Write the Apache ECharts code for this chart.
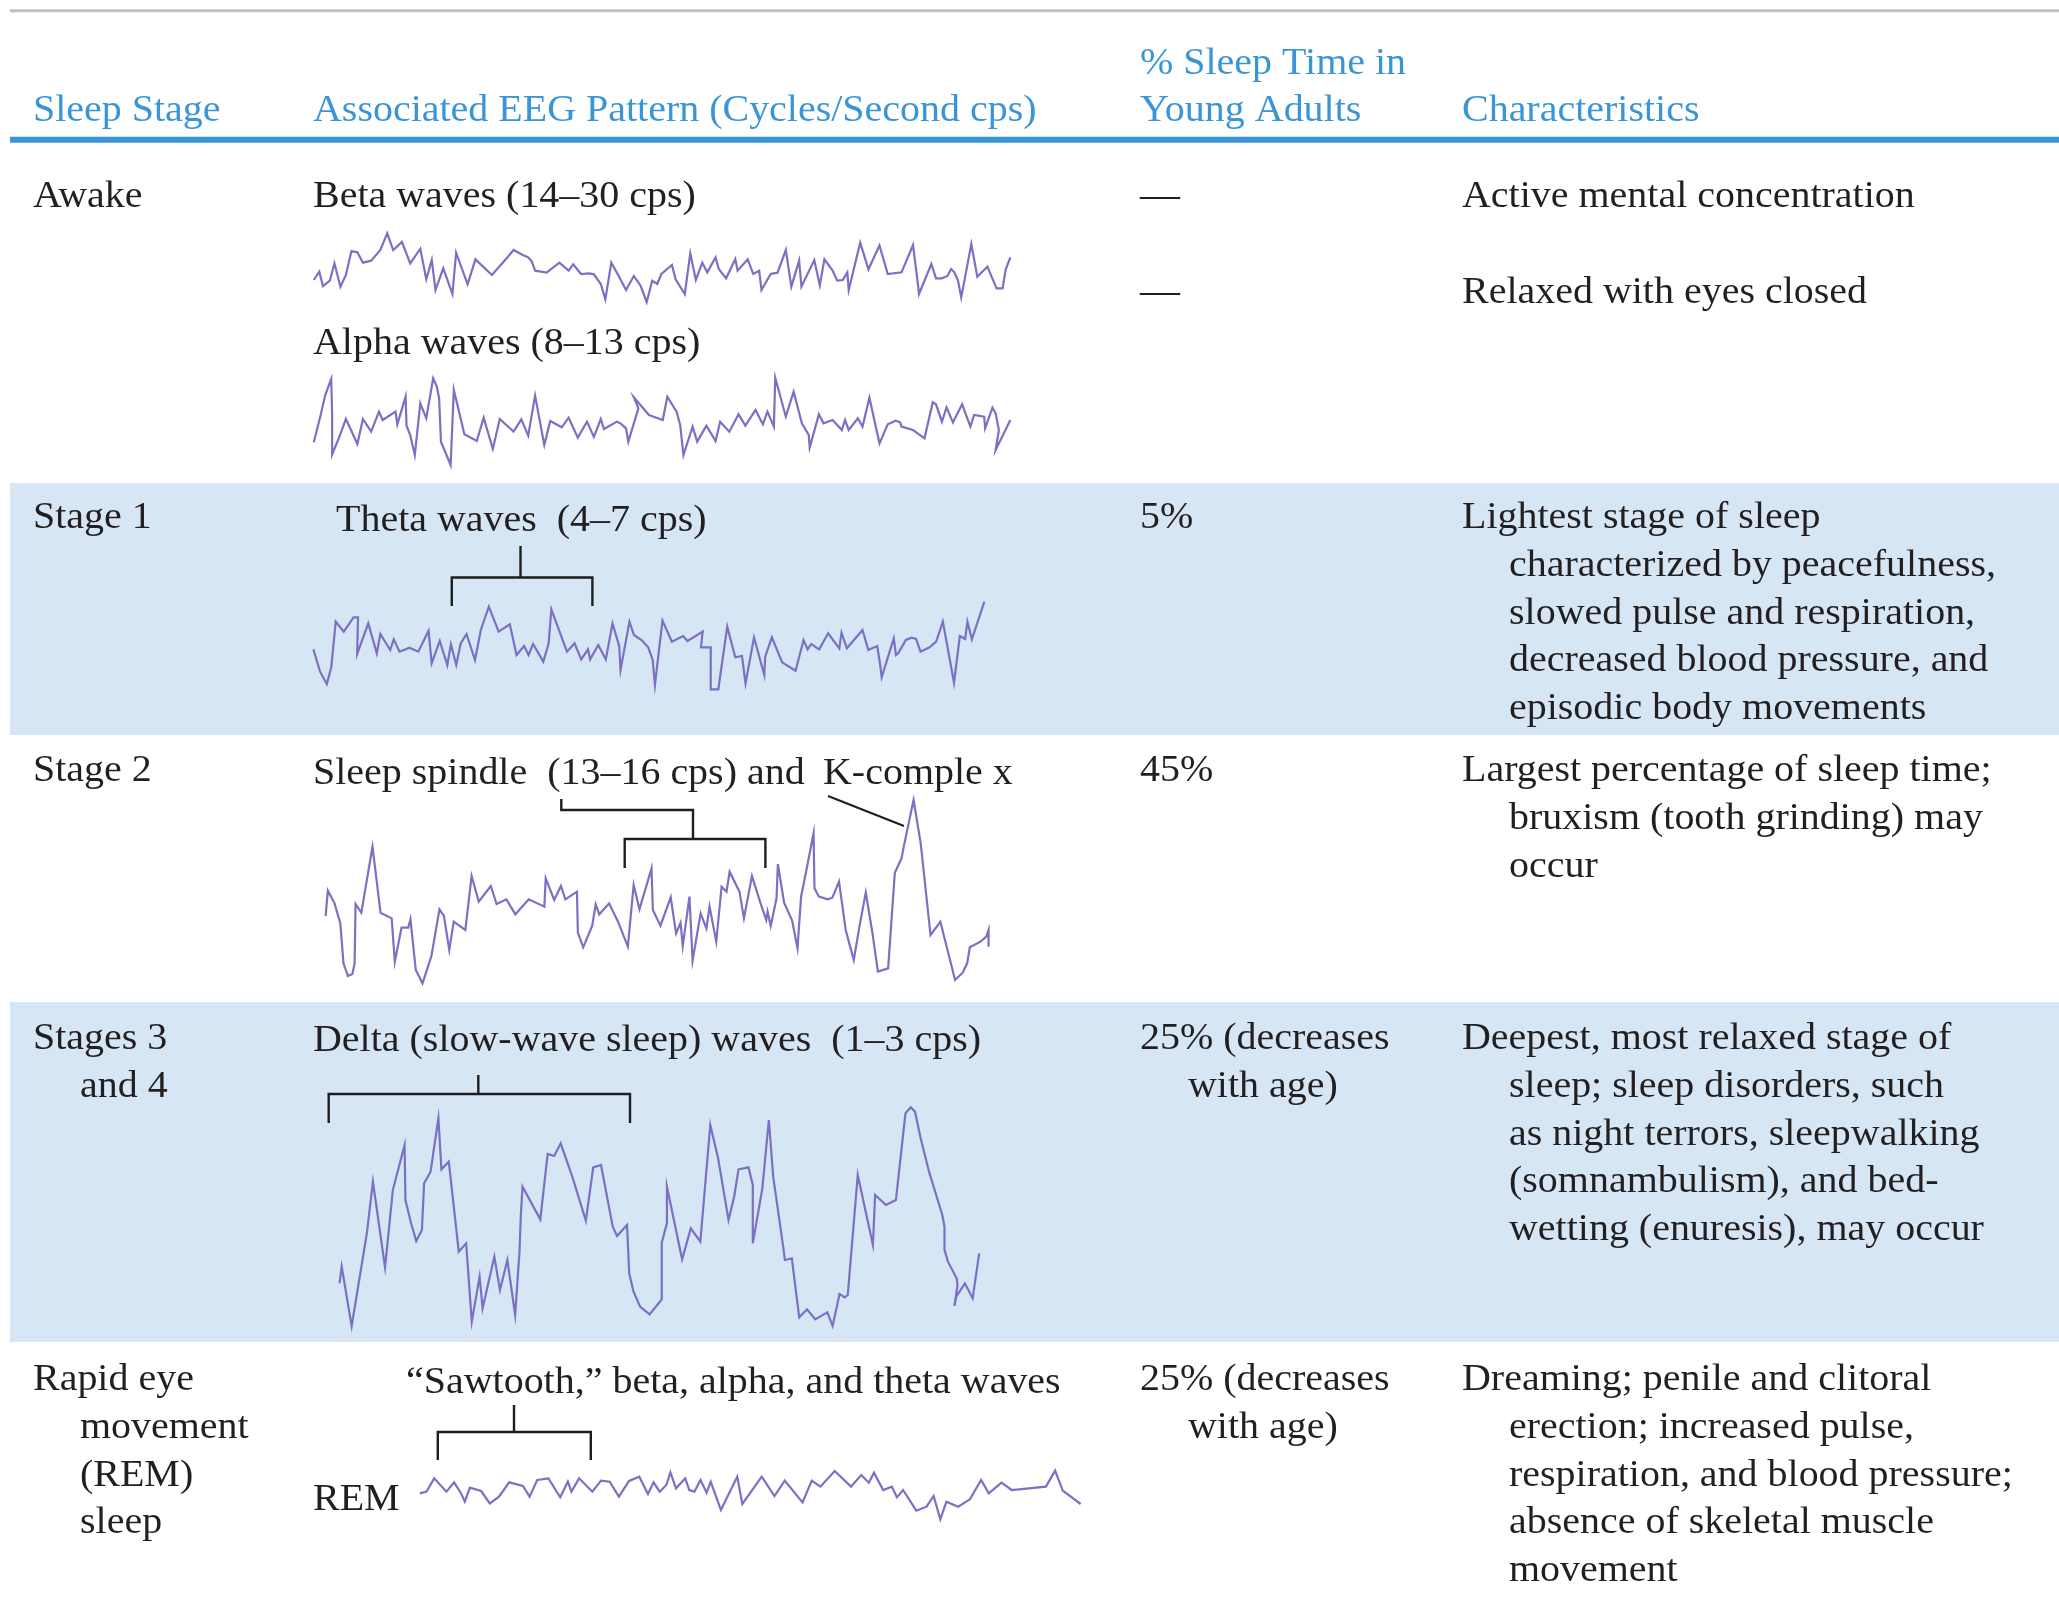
<!DOCTYPE html>
<html><head><meta charset="utf-8">
<script src="https://cdn.jsdelivr.net/npm/echarts@6/dist/echarts.min.js"></script>
<style>html,body{margin:0;padding:0;background:#fff}#c{width:2059px;height:1600px}</style>
</head><body><div id="c"></div><script>
// ---- Data: EEG traces as [time sample, deflection] (EEG convention: negative up) ----
var betaWave = [[30,180],[42,155],[50,198],[65,182],[75,130],[88,200],[100,165],[112,93],[125,97],[137,128],[155,122],[175,90],[190,40],[203,90],[222,66],[240,130],[262,86],[275,178],[287,120],[295,210],[312,145],[332,222],[340,98],[365,193],[382,118],[418,165],[450,115],[465,90],[485,105],[497,112],[505,125],[512,152],[537,158],[565,128],[585,152],[595,133],[612,162],[630,160],[640,163],[655,192],[665,238],[678,128],[692,163],[710,210],[727,168],[742,198],[755,246],[767,182],[778,192],[787,162],[810,135],[818,178],[838,222],[850,100],[862,180],[876,128],[887,157],[905,112],[912,147],[928,175],[948,117],[953,152],[975,118],[987,162],[1000,152],[1005,210],[1025,162],[1040,158],[1058,90],[1070,200],[1087,122],[1092,200],[1120,120],[1132,196],[1142,118],[1160,152],[1170,182],[1182,180],[1192,157],[1195,210],[1220,68],[1238,148],[1262,76],[1280,162],[1310,157],[1335,75],[1345,185],[1348,222],[1375,132],[1385,175],[1398,175],[1410,168],[1418,147],[1425,157],[1433,182],[1440,232],[1462,72],[1475,170],[1497,140],[1517,205],[1530,205],[1537,148],[1547,112]];
var alphaWave = [[30,232],[45,150],[55,90],[68,42],[70,150],[70,268],[85,218],[100,162],[125,237],[137,162],[155,200],[172,140],[180,165],[208,140],[212,178],[230,95],[232,182],[240,210],[250,270],[262,115],[275,160],[290,40],[298,65],[303,100],[307,230],[328,300],[335,75],[358,208],[385,228],[400,158],[420,252],[435,162],[465,200],[482,163],[497,212],[512,92],[532,240],[545,168],[570,187],[585,158],[605,218],[625,170],[640,216],[655,162],[662,192],[690,170],[698,175],[710,190],[715,230],[737,130],[727,97],[760,150],[790,165],[800,95],[820,140],[828,180],[835,270],[855,185],[865,230],[885,182],[905,228],[915,170],[935,200],[955,148],[970,182],[992,135],[1008,178],[1018,140],[1032,185],[1035,38],[1058,155],[1075,80],[1093,175],[1108,210],[1110,248],[1130,148],[1140,175],[1160,165],[1180,195],[1187,165],[1195,195],[1215,160],[1225,185],[1240,98],[1262,235],[1280,178],[1297,167],[1307,172],[1310,185],[1335,195],[1345,205],[1360,220],[1378,112],[1385,118],[1398,170],[1408,127],[1422,172],[1442,118],[1460,185],[1468,150],[1490,155],[1492,190],[1508,128],[1515,145],[1522,195],[1515,255],[1547,165]];
var thetaWave = [[30,268],[45,335],[60,372],[70,322],[80,185],[98,215],[120,172],[130,172],[128,282],[153,190],[172,280],[180,222],[202,270],[210,238],[223,275],[245,263],[265,275],[288,212],[295,310],[313,243],[330,315],[338,253],[350,315],[360,250],[373,222],[392,300],[405,210],[423,140],[445,215],[470,193],[485,285],[502,258],[512,285],[522,252],[545,305],[557,250],[563,148],[598,275],[615,250],[630,298],[645,268],[650,298],[668,255],[685,298],[700,190],[715,258],[718,330],[738,185],[748,225],[765,240],[780,262],[790,300],[795,375],[812,182],[833,245],[858,228],[868,243],[902,215],[898,262],[920,262],[920,388],[937,388],[957,200],[975,292],[990,288],[998,370],[1017,232],[1040,345],[1042,290],[1057,232],[1080,307],[1110,332],[1128,240],[1137,268],[1145,252],[1163,268],[1183,220],[1208,265],[1213,218],[1225,265],[1260,210],[1273,270],[1293,258],[1300,318],[1303,352],[1330,235],[1335,285],[1340,280],[1357,240],[1370,233],[1380,237],[1390,275],[1410,262],[1425,245],[1440,185],[1465,368],[1478,228],[1490,237],[1495,185],[1505,238],[1533,125]];
var spindleWave = [[35,498],[40,422],[55,460],[68,520],[75,640],[85,678],[95,672],[100,640],[102,462],[115,488],[140,290],[158,488],[183,505],[190,635],[205,533],[220,533],[225,508],[237,660],[252,700],[272,618],[290,478],[300,498],[312,600],[322,515],[348,540],[362,378],[378,455],[405,408],[418,462],[440,448],[460,493],[490,448],[525,470],[528,385],[547,450],[562,408],[572,448],[598,425],[600,548],[612,592],[632,528],[640,463],[648,493],[670,460],[690,515],[712,590],[725,405],[738,478],[765,355],[768,480],[785,527],[808,442],[820,550],[830,518],[835,588],[850,440],[857,632],[875,490],[888,535],[895,470],[910,575],[922,410],[933,425],[940,365],[962,425],[972,505],[990,378],[1008,455],[1022,510],[1025,485],[1032,528],[1045,445],[1048,342],[1062,458],[1080,512],[1092,595],[1100,440],[1112,360],[1128,250],[1130,415],[1140,440],[1160,448],[1170,443],[1185,395],[1200,540],[1218,630],[1232,520],[1245,428],[1260,550],[1272,665],[1295,655],[1310,368],[1325,325],[1330,290],[1352,150],[1368,280],[1390,555],[1412,515],[1445,690],[1462,668],[1472,640],[1478,592],[1502,575],[1515,560],[1520,540],[1520,590]];
var deltaWave = [[45,610],[50,560],[73,738],[108,460],[122,305],[150,562],[168,330],[195,195],[197,360],[210,430],[222,483],[235,450],[240,310],[255,275],[273,115],[280,268],[297,245],[320,515],[337,490],[350,725],[368,590],[375,685],[402,530],[415,630],[432,540],[450,705],[460,515],[463,408],[467,320],[508,418],[525,222],[540,228],[555,190],[583,295],[613,422],[630,262],[648,255],[675,440],[685,468],[708,435],[713,580],[723,635],[738,680],[760,703],[788,658],[788,488],[800,430],[800,320],[835,538],[855,445],[877,485],[900,135],[918,235],[942,420],[955,350],[965,268],[988,262],[998,315],[998,490],[1020,325],[1035,120],[1045,290],[1068,500],[1072,540],[1088,535],[1105,712],[1123,688],[1142,718],[1170,697],[1182,738],[1198,642],[1210,652],[1217,645],[1240,285],[1275,495],[1280,345],[1305,375],[1328,360],[1350,100],[1362,82],[1372,95],[1385,175],[1405,278],[1435,405],[1440,440],[1440,510],[1448,545],[1468,595],[1470,615],[1463,678],[1467,650],[1487,610],[1505,655],[1508,655],[1520,520]];
var remWave = [[235,400],[248,395],[263,355],[287,395],[302,367],[315,398],[323,425],[333,383],[355,393],[372,430],[390,410],[410,367],[437,378],[450,410],[465,360],[487,355],[510,412],[525,365],[532,395],[547,355],[573,395],[590,362],[607,365],[625,410],[645,363],[665,350],[682,402],[693,367],[705,395],[718,375],[726,337],[737,385],[755,355],[763,390],[773,395],[785,360],[797,398],[805,365],[825,450],[857,350],[867,432],[905,350],[930,408],[950,362],[985,427],[1003,362],[1020,380],[1048,333],[1080,380],[1100,345],[1115,368],[1125,338],[1143,390],[1160,380],[1170,412],[1182,390],[1208,452],[1228,440],[1242,408],[1255,478],[1267,425],[1290,440],[1313,418],[1335,360],[1350,400],[1375,368],[1395,390],[1462,380],[1480,332],[1495,392],[1530,432]];

// ---- Table text ----
var headers = ["Sleep Stage", "Associated EEG Pattern (Cycles/Second cps)", "% Sleep Time in", "Young Adults", "Characteristics"];
var stageLabels = [["Awake"], ["Stage 1"], ["Stage 2"], ["Stages 3", "and 4"], ["Rapid eye", "movement", "(REM)", "sleep"]];
var patternLabels = ["Beta waves (14\u201330 cps)", "Alpha waves (8\u201313 cps)", "Theta waves  (4\u20137 cps)", "Sleep spindle  (13\u201316 cps) and", "K-comple x", "Delta (slow-wave sleep) waves  (1\u20133 cps)", "\u201cSawtooth,\u201d beta, alpha, and theta waves", "REM"];
var percentLabels = [["\u2014", "\u2014"], ["5%"], ["45%"], ["25% (decreases", "with age)"], ["25% (decreases", "with age)"]];
var characteristics = [
  ["Active mental concentration", "Relaxed with eyes closed"],
  ["Lightest stage of sleep", "characterized by peacefulness,", "slowed pulse and respiration,", "decreased blood pressure, and", "episodic body movements"],
  ["Largest percentage of sleep time;", "bruxism (tooth grinding) may", "occur"],
  ["Deepest, most relaxed stage of", "sleep; sleep disorders, such", "as night terrors, sleepwalking", "(somnambulism), and bed-", "wetting (enuresis), may occur"],
  ["Dreaming; penile and clitoral", "erection; increased pulse,", "respiration, and blood pressure;", "absence of skeletal muscle", "movement"]
];

var FS = 37, SX = 1.08, FONT = '"Liberation Serif", "Times New Roman", serif';
var INK = '#231f20', HEAD = '#3a95d6', WAVE = '#7b70c2', BAND = '#d6e6f5';

function txt(s, x, base, color) {
  return {type: 'text', x: x, y: base - 0.34 * FS + 4, scaleX: SX, z: 20, silent: true,
    style: {text: s, x: 0, y: 0, fill: color || INK, font: FS + 'px ' + FONT, textAlign: 'left', textVerticalAlign: 'middle'}};
}
function poly(pts, w) {
  return {type: 'polyline', z: 20, silent: true, shape: {points: pts}, style: {stroke: '#1e1e1e', lineWidth: w || 2.4, fill: null}};
}

var g = [];
// bands and rules
g.push({type: 'rect', z: 0, silent: true, shape: {x: 10, y: 483, width: 2049, height: 252}, style: {fill: BAND}});
g.push({type: 'rect', z: 0, silent: true, shape: {x: 10, y: 1002, width: 2049, height: 340}, style: {fill: BAND}});
g.push({type: 'line', z: 1, silent: true, shape: {x1: 10, y1: 10.7, x2: 2059, y2: 10.7}, style: {stroke: '#c0c0c0', lineWidth: 3}});
g.push({type: 'line', z: 1, silent: true, shape: {x1: 10, y1: 139.7, x2: 2059, y2: 139.7}, style: {stroke: HEAD, lineWidth: 6}});

// headers
g.push(txt(headers[0], 33, 120, HEAD));
g.push(txt(headers[1], 313, 120, HEAD));
g.push(txt(headers[2], 1140, 72.5, HEAD));
g.push(txt(headers[3], 1140, 120, HEAD));
g.push(txt(headers[4], 1462, 120, HEAD));

// stage column
var LH = 47.7;
var rowBase = [206, 527, 780, 1048, 1389];
stageLabels.forEach(function (lines, r) {
  lines.forEach(function (s, i) { g.push(txt(s, i === 0 ? 33 : 80, rowBase[r] + i * LH)); });
});
// percent column
g.push(txt(percentLabels[0][0], 1140, 206));
g.push(txt(percentLabels[0][1], 1140, 302));
[1, 2, 3, 4].forEach(function (r) {
  percentLabels[r].forEach(function (s, i) { g.push(txt(s, i === 0 ? 1140 : 1188, rowBase[r] + i * LH)); });
});
// characteristics column
g.push(txt(characteristics[0][0], 1462, 206));
g.push(txt(characteristics[0][1], 1462, 302));
[1, 2, 3, 4].forEach(function (r) {
  characteristics[r].forEach(function (s, i) { g.push(txt(s, i === 0 ? 1462 : 1509, rowBase[r] + i * LH)); });
});
// pattern labels
g.push(txt(patternLabels[0], 313, 206));
g.push(txt(patternLabels[1], 313, 353));
g.push(txt(patternLabels[2], 336, 530));
g.push(txt(patternLabels[3], 313, 783));
g.push(txt(patternLabels[4], 823, 783));
g.push(txt(patternLabels[5], 313, 1050));
g.push(txt(patternLabels[6], 406, 1392));
g.push(txt(patternLabels[7], 313, 1509));

// brackets / pointers
g.push(poly([[520.5, 546], [520.5, 577.5]]));
g.push(poly([[451.8, 606], [451.8, 577.5], [592.4, 577.5], [592.4, 606]]));
g.push(poly([[561.3, 799], [561.3, 810], [693, 810], [693, 839]]));
g.push(poly([[624.7, 868], [624.7, 839], [765.4, 839], [765.4, 868]]));
g.push(poly([[828, 796], [904, 826]], 2));
g.push(poly([[478.3, 1075], [478.3, 1094]]));
g.push(poly([[328.7, 1123], [328.7, 1094], [630, 1094], [630, 1123]]));
g.push(poly([[514, 1405], [514, 1432]]));
g.push(poly([[437.8, 1460], [437.8, 1432], [590.8, 1432], [590.8, 1460]]));

// wave panels: [data, left, top, width, height]
var panels = [
  [betaWave, 300, 220, 720, 90],
  [alphaWave, 300, 365, 720, 110],
  [thetaWave, 300, 560, 700, 140],
  [spindleWave, 310, 750, 700, 240],
  [deltaWave, 320, 1080, 680, 250],
  [remWave, 300, 1360, 800, 170]
];
var grids = [], xAxes = [], yAxes = [], series = [];
panels.forEach(function (p, i) {
  grids.push({left: p[1], top: p[2], width: p[3], height: p[4], show: false});
  xAxes.push({type: 'value', gridIndex: i, min: 0, max: 1568, show: false});
  yAxes.push({type: 'value', gridIndex: i, min: 0, max: p[4] * 3, inverse: true, show: false});
  series.push({type: 'line', xAxisIndex: i, yAxisIndex: i, data: p[0], symbol: 'none', showSymbol: false,
    clip: false, silent: true, z: 10, lineStyle: {color: WAVE, width: 2.2, join: 'miter'}});
});

var chart = echarts.init(document.getElementById('c'), null, {renderer: 'canvas'});
chart.setOption({
  animation: false,
  backgroundColor: '#ffffff',
  grid: grids, xAxis: xAxes, yAxis: yAxes, series: series,
  graphic: {elements: g}
});
</script></body></html>
